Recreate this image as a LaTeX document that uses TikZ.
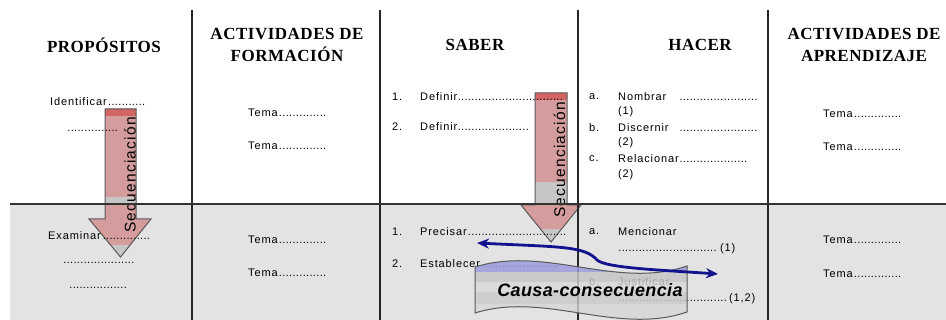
\documentclass[tikz,border=0pt]{standalone}
\usepackage{fontspec}
\setmainfont{Liberation Serif}
\newfontfamily\cabfont[LetterSpace=3]{Liberation Serif}
\newfontfamily\txtfont[LetterSpace=8]{Liberation Sans}
\newfontfamily\secfont[LetterSpace=8]{Liberation Sans}
\newfontfamily\bandfont[LetterSpace=2]{Liberation Sans}
\usetikzlibrary{arrows.meta}

\definecolor{filagris}{HTML}{E3E3E3}
\definecolor{rosa}{HTML}{D49C9C}
\definecolor{rosaosc}{HTML}{D26464}
\definecolor{franja}{HTML}{C6C6C6}
\definecolor{lila}{HTML}{9C9CDC}
\definecolor{azul}{HTML}{12128E}

\newcommand\puntos{\leaders\hbox to 3.4pt{\hss.\hss}\hfill}
\newcommand\linea[2]{\hbox to #1pt{#2}}

\begin{document}
\begin{tikzpicture}[x=1pt,y=-1pt,
  cab/.style={font=\cabfont\bfseries\fontsize{17}{22}\selectfont,align=center,inner sep=0pt},
  txt/.style={font=\txtfont\fontsize{11}{12}\selectfont,anchor=west,inner sep=0pt,text=black},
  sec/.style={font=\secfont\fontsize{15.5}{15.5}\selectfont,rotate=90,inner sep=0pt},
  borde/.style={draw=black!65,line width=1pt}]

\useasboundingbox (0,0) rectangle (946,320);
\fill[filagris] (10,204) rectangle (946,320);

% flecha izquierda
\begin{scope}
\clip (105,109) -- (136,109) -- (136,219) -- (151,219) -- (120.5,257) -- (89,219) -- (105,219) -- cycle;
\fill[rosa] (80,100) rectangle (160,260);
\fill[rosaosc] (80,100) rectangle (160,116);
\fill[franja] (80,197) rectangle (160,204);
\fill[franja] (80,245) rectangle (160,260);
\end{scope}
\draw[borde] (105,109) -- (136,109) -- (136,219) -- (151,219) -- (120.5,257) -- (89,219) -- (105,219) -- cycle;
\node[sec] (secA) at (130,175) {Secuenciación};

% flecha central
\begin{scope}
\clip (535,93) -- (567,93) -- (567,205) -- (581,205) -- (551,242) -- (521,205) -- (535,205) -- cycle;
\fill[rosa] (510,85) rectangle (590,245);
\fill[rosaosc] (510,85) rectangle (590,100);
\fill[franja] (510,182) rectangle (590,205);
\fill[franja] (510,229) rectangle (590,245);
\end{scope}
\draw[borde] (535,93) -- (567,93) -- (567,205) -- (581,205) -- (551,242) -- (521,205) -- (535,205) -- cycle;
\node[sec] (secB) at (559.5,160) {Secuenciación};

% lineas de la tabla
\foreach \x in {192,380,578,768}
  \draw[black!85,line width=1.3pt] (\x,10) -- (\x,320);
\draw[black!80,line width=1.8pt] (10,204) -- (946,204);

% encabezados
\node[cab] (proposito) at (104,45) {PROPÓSITOS};
\node[cab] (formacion) at (287,45) {ACTIVIDADES DE\\FORMACIÓN};
\node[cab] (saber) at (475,45) {SABER};
\node[cab] (hacer) at (700,45) {HACER};
\node[cab] (aprendizaje) at (864,45) {ACTIVIDADES DE\\APRENDIZAJE};

% propositos
\node[txt] (ident) at (50,102) {\linea{96}{Identificar\puntos}};
\node[txt] (identB) at (67,131) {\linea{54}{\puntos}};
\node[txt] (exam) at (48,236) {\linea{103}{Examinar\puntos}};
\node[txt] (examB) at (63,263) {\linea{74}{\puntos}};
\node[txt] (examC) at (69,288) {\linea{60}{\puntos}};

% actividades de formacion
\node[txt] (temaA) at (248,113) {\linea{80}{Tema\puntos}};
\node[txt] (temaB) at (248,146) {\linea{80}{Tema\puntos}};
\node[txt] (temaC) at (248,240) {\linea{80}{Tema\puntos}};
\node[txt] (temaD) at (248,273) {\linea{80}{Tema\puntos}};

% saber
\node[txt] (s1) at (392,97) {1.};
\node[txt] (def1) at (420,97) {\linea{145}{Definir\puntos}};
\node[txt] (s2) at (392,127) {2.};
\node[txt] (def2) at (420,127) {\linea{112}{Definir\puntos}};
\node[txt] (s3) at (392,232) {1.};
\node[txt] (prec) at (420,232) {\linea{148}{Precisar\puntos}};
\node[txt] (s4) at (392,264) {2.};
\node[txt] (estab) at (420,264) {\linea{140}{Establecer\puntos}};

% hacer
\node[txt] (ha) at (589,97) {a.};
\node[txt] (nomb) at (618,97) {\linea{140}{Nombrar\hspace{10pt}\puntos}};
\node[txt] (nombB) at (618,112) {(1)};
\node[txt] (hb) at (589,128) {b.};
\node[txt] (disc) at (618,128) {\linea{140}{Discernir\hspace{10pt}\puntos}};
\node[txt] (discB) at (618,143) {(2)};
\node[txt] (hc) at (589,159) {c.};
\node[txt] (rel) at (618,159) {\linea{132}{Relacionar\puntos}};
\node[txt] (relB) at (618,175) {(2)};
\node[txt] (hd) at (589,232) {a.};
\node[txt] (menc) at (618,232) {Mencionar};
\node[txt] (mencB) at (618,249) {\linea{117}{\puntos(1)}};
\node[txt] (he) at (589,282) {b.};
\node[txt] (just) at (618,282) {Justificar};
\node[txt] (justB) at (618,299) {\linea{137}{\puntos(1,2)}};

% actividades de aprendizaje
\node[txt] (temaE) at (823,114) {\linea{80}{Tema\puntos}};
\node[txt] (temaF) at (823,147) {\linea{80}{Tema\puntos}};
\node[txt] (temaG) at (823,240) {\linea{80}{Tema\puntos}};
\node[txt] (temaH) at (823,274) {\linea{80}{Tema\puntos}};

% banda causa-consecuencia
\begin{scope}
\clip (475,267) .. controls (545,245) and (617,290) .. (687,266) -- (687,312) .. controls (617,336) and (545,291) .. (475,313) -- cycle;
\fill[lila,fill opacity=0.85] (470,245) rectangle (690,272);
\fill[franja,fill opacity=0.85] (470,272) rectangle (690,282);
\fill[black!15,fill opacity=0.8] (470,282) rectangle (690,292);
\fill[black!21,fill opacity=0.8] (470,292) rectangle (690,304);
\fill[black!16,fill opacity=0.8] (470,304) rectangle (690,325);
\end{scope}
\draw[borde] (475,267) .. controls (545,245) and (617,290) .. (687,266) -- (687,312) .. controls (617,336) and (545,291) .. (475,313) -- cycle;

\coordinate (efIzq) at (477,243);
\coordinate (efDer) at (718,274);
\draw[azul,line width=2.8pt,{Stealth[length=12pt,width=10pt]}-{Stealth[length=12pt,width=10pt]}]
  (efIzq) .. controls (560,247) and (585,246) .. (597,260) .. controls (606,268) and (660,270) .. (efDer);

\node[font=\bandfont\bfseries\itshape\fontsize{18}{18}\selectfont,inner sep=0pt] (causa) at (590,290) {Causa-consecuencia};
\end{tikzpicture}
\end{document}
